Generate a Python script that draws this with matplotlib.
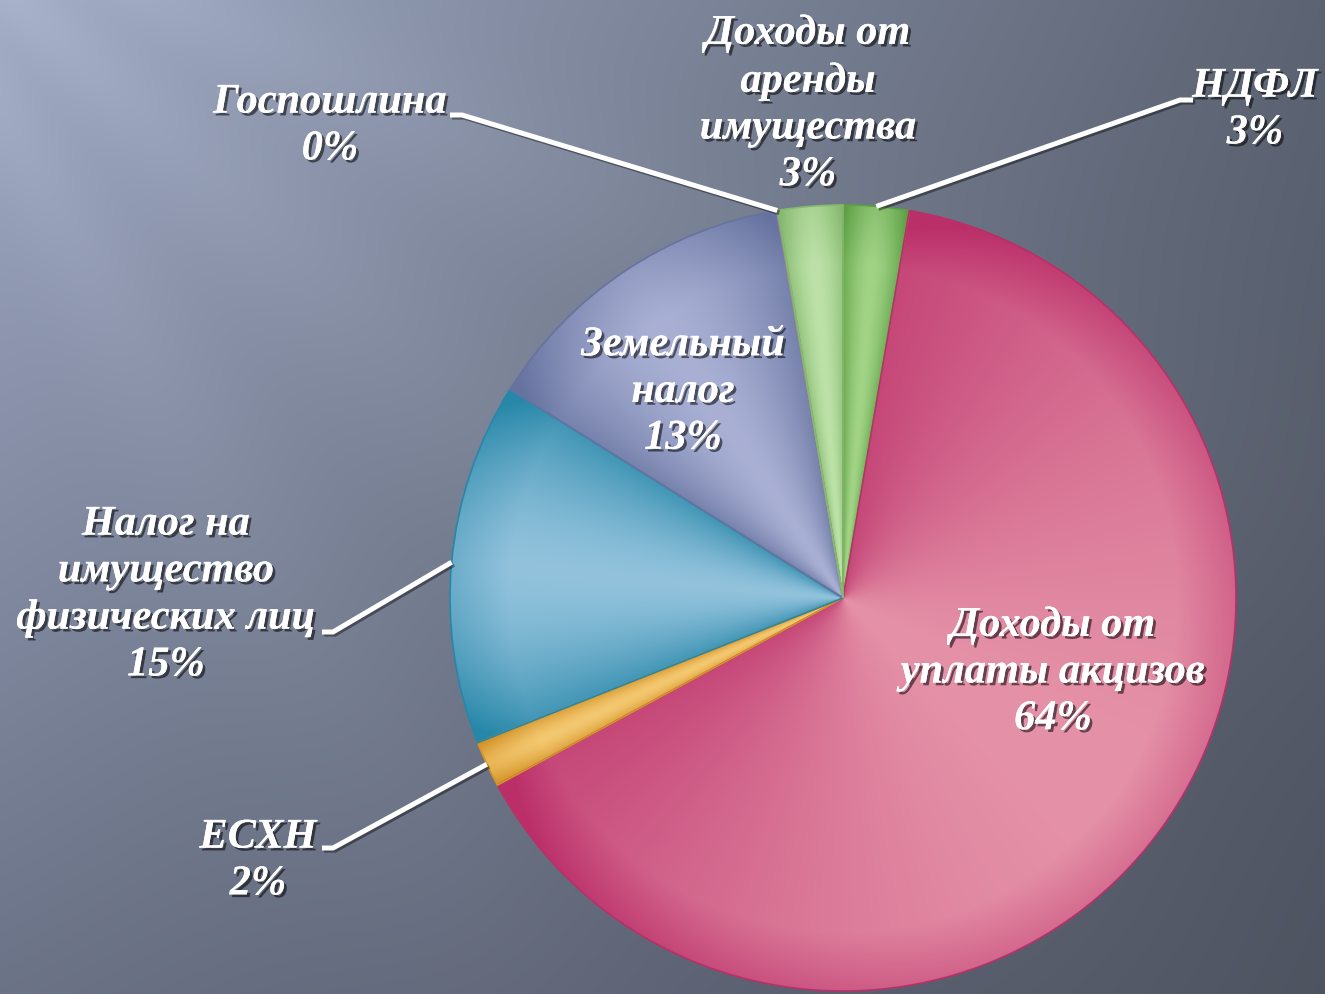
import numpy as np
import matplotlib.pyplot as plt
import matplotlib.patheffects as pe
from matplotlib.patches import Wedge
from matplotlib.colors import to_rgb

# Slice data (clockwise from 12 o'clock)
labels = ['НДФЛ', 'Доходы от\nуплаты акцизов', 'ЕСХН', 'Налог на\nимущество\nфизических лиц',
          'Земельный\nналог', 'Госпошлина', 'Доходы от\nаренды\nимущества']
values = [2.7, 64.4, 1.9, 14.9, 13.4, 0.05, 2.65]
light_colors = ['#a2d486', '#e592a8', '#f4c870', '#92c2dc', '#a9b0d4', '#c8c8c8', '#bde2a8']
dark_colors = ['#5d9f45', '#bb2f69', '#d39327', '#2787a9', '#66739f', '#909090', '#86b96f']

W, H = 1325, 994
fig = plt.figure(figsize=(W / 100, H / 100), dpi=100)
ax = fig.add_axes([0, 0, 1, 1])

# background gradient with soft diagonal light streaks
yy, xx = np.mgrid[0:H, 0:W].astype(float)
u, v = xx / W, yy / H
c_tl = np.array([0.62, 0.66, 0.76])
c_tr = np.array([0.36, 0.39, 0.45])
c_bl = np.array([0.42, 0.45, 0.53])
c_br = np.array([0.30, 0.32, 0.37])
bg = ((1 - u) * (1 - v))[..., None] * c_tl + (u * (1 - v))[..., None] * c_tr \
    + ((1 - u) * v)[..., None] * c_bl + (u * v)[..., None] * c_br
phi = np.degrees(np.arctan2(yy + 150, xx + 150))
dist = np.hypot(xx, yy)
beam = np.zeros_like(phi)
for a0, amp, w in [(25, 0.04, 7), (42, 0.04, 8), (60, 0.035, 7)]:
    beam += amp * np.exp(-((phi - a0) / w) ** 2)
beam *= np.exp(-dist / 1200)
bg = np.clip(bg + beam[..., None], 0, 1)
ax.imshow(bg, extent=(0, W, 0, H), origin='upper', zorder=0)

# pie
cx, cy, R = 843, H - 598, 393
wedges, _ = ax.pie(values, startangle=90, counterclock=False, center=(cx, cy), radius=R,
                   colors=light_colors, wedgeprops=dict(edgecolor='none'), frame=True)
ax.set_xlim(0, W)
ax.set_ylim(0, H)
ax.set_aspect('equal')
ax.axis('off')

x0, x1, y0, y1 = cx - R, cx + R, cy - R, cy + R
gy, gx = np.mgrid[y1:y0:-1, x0:x1:1].astype(float)
ang = np.degrees(np.arctan2(gy - cy, gx - cx))
rr = np.hypot(gx - cx, gy - cy) / R
for w, lc, dc in zip(wedges, light_colors, dark_colors):
    t1, t2 = w.theta1, w.theta2
    span = max(t2 - t1, 1e-6)
    frac = ((ang - t1) % 360) / span
    t = np.clip(np.abs(frac - 0.5) * 2, 0, 1) ** 1.6
    t = np.clip(0.75 * t + 0.35 * np.clip(rr - 0.85, 0, 1) / 0.15, 0, 1)
    img = (1 - t)[..., None] * np.array(to_rgb(lc)) + t[..., None] * np.array(to_rgb(dc))
    im = ax.imshow(img, extent=(x0, x1, y0, y1), origin='upper', zorder=2)
    im.set_clip_path(w)
    w.set_zorder(1)
    ax.add_patch(Wedge((cx, cy), R, t1, t2, facecolor='none',
                       edgecolor=dc, linewidth=1.2, zorder=3))

shadow = [pe.withSimplePatchShadow(offset=(2, -2), shadow_rgbFace='black', alpha=0.55), pe.Normal()]
font = dict(family='Liberation Serif', weight='bold', style='italic', color='white',
            fontsize=30.5, ha='center', va='center', linespacing=1.3, zorder=6)

pct = [f'{round(val):d}%' for val in values]
label_pos = [(1255, 110), (1053, 672), (258, 861), (166, 595), (683, 392), (330, 126), (808, 104)]
for lab, p, (lx, ly) in zip(labels, pct, label_pos):
    ax.text(lx, H - ly, lab + '\n' + p, path_effects=shadow, **font)

# leader lines: (slice index, elbow point, end point) in pixel coords
leaders = [(0, (1180, 100), (1193, 100)), (5, (462, 115), (450, 115)),
           (3, (333, 632), (322, 632)), (2, (333, 848), (322, 848))]
for i, (ex, ey), (tx, ty) in leaders:
    w = wedges[i]
    mid = np.radians((w.theta1 + w.theta2) / 2)
    sx, sy = cx + R * np.cos(mid), cy + R * np.sin(mid)
    ax.plot([sx, ex, tx], [sy, H - ey, H - ty], color='white', lw=3.6,
            solid_capstyle='butt', solid_joinstyle='miter', zorder=5,
            path_effects=[pe.SimpleLineShadow(offset=(1.5, -1.5), alpha=0.4), pe.Normal()])

plt.savefig('out.png', dpi=100)
